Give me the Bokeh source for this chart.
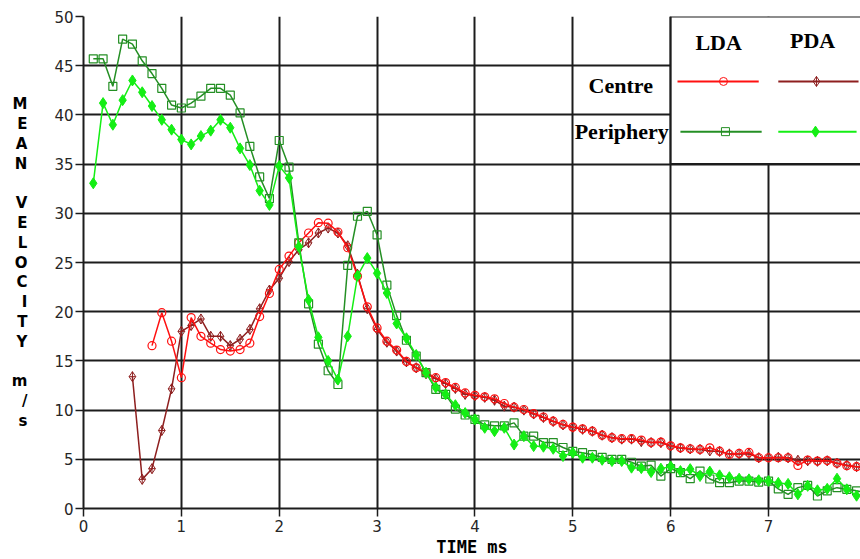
from bokeh.plotting import figure
from bokeh.models import Range1d, FixedTicker
from bokeh.embed import file_html
from bokeh.resources import INLINE
from bokeh.core.properties import value


def times(start, n):
    """Sample times (ms) on the 0.1 ms acquisition grid."""
    return [round(start + 0.1 * i, 1) for i in range(n)]


# Mean velocity (m/s) per 0.1 ms bin
LDA_PERIPHERY = [
    45.7, 45.7, 42.9, 47.7, 47.2, 45.5, 44.2, 42.7, 41.0, 40.7,
    41.2, 41.9, 42.7, 42.7, 42.0, 40.2, 36.8, 33.7, 31.5, 37.4,
    34.7, 27.0, 20.8, 16.7, 14.0, 12.6, 24.7, 29.7, 30.2, 27.8,
    22.7, 19.6, 17.1, 15.5, 13.8, 12.1, 11.6, 10.1, 9.5, 9.05,
    8.5, 8.4, 8.4, 8.7, 7.35, 7.35, 6.7, 6.7, 6.2, 5.8,
    5.67, 5.47, 5.2, 5.0, 5.0, 4.7, 4.3, 4.4, 3.3, 4.05,
    3.65, 3.03, 3.8, 3.0, 2.62, 2.62, 2.79, 2.79, 2.69, 2.79,
    2.0, 1.44, 2.12, 2.35, 1.27, 1.8, 2.12, 1.95, 1.8, 1.6,
]
PDA_PERIPHERY = [
    33.05, 41.2, 39.0, 41.5, 43.5, 42.3, 40.9, 39.5, 38.5, 37.5,
    37.0, 37.85, 38.4, 39.5, 38.7, 36.6, 34.9, 32.3, 30.85, 34.8,
    33.6, 26.6, 21.2, 17.4, 15.0, 13.1, 17.5, 23.65, 25.45, 23.9,
    21.9, 18.8, 17.3, 15.6, 13.8, 12.3, 11.6, 10.5, 9.7, 9.05,
    8.2, 7.86, 8.2, 6.5, 7.35, 6.34, 6.28, 6.07, 5.33, 5.67,
    5.16, 5.16, 4.95, 4.82, 4.82, 4.15, 4.1, 3.7, 4.05, 4.28,
    3.8, 4.0, 3.3, 3.75, 3.37, 3.18, 3.03, 2.96, 2.87, 2.79,
    2.6, 2.5, 1.44, 2.3, 1.85, 2.0, 3.03, 1.95, 1.3, 1.3,
]
LDA_CENTRE = [
    16.55, 19.9, 17.0, 13.3, 19.4, 17.5, 16.8, 16.15, 16.0, 16.15,
    16.8, 19.5, 21.85, 24.3, 25.65, 27.0, 28.0, 29.05, 29.0, 28.1,
    26.5, 23.6, 20.5, 18.35, 17.0, 16.1, 14.95, 14.3, 13.8, 13.3,
    12.8, 12.3, 11.75, 11.5, 11.35, 11.15, 10.67, 10.3, 10.06, 9.65,
    9.3, 8.87, 8.54, 8.27, 8.1, 7.86, 7.45, 7.2, 7.1, 7.1,
    6.95, 6.7, 6.75, 6.37, 6.17, 6.07, 6.0, 6.17, 5.83, 5.5,
    5.6, 5.7, 5.16, 5.16, 5.16, 5.16, 4.38, 4.92, 4.82, 4.87,
    4.6, 4.35, 4.25, 4.2,
]
PDA_CENTRE = [
    13.4, 2.96, 4.05, 7.93, 12.16, 18.0, 18.6, 19.26, 17.5, 17.5,
    16.55, 17.2, 18.2, 20.3, 22.2, 23.4, 25.1, 26.3, 27.0, 28.0,
    28.5, 28.0, 26.7, 23.8, 20.3, 18.2, 16.9, 16.0, 14.9, 14.3,
    13.7, 13.2, 12.7, 12.2, 11.6, 11.45, 11.3, 11.0, 10.4, 10.3,
    10.0, 9.6, 9.25, 8.85, 8.5, 8.25, 8.05, 7.85, 7.45, 7.2,
    7.05, 7.05, 6.8, 6.7, 6.7, 6.35, 6.15, 6.05, 6.0, 5.85,
    5.8, 5.55, 5.55, 5.55, 5.16, 5.16, 5.2, 5.16, 4.9, 4.85,
    4.8, 4.85, 4.6, 4.4, 4.25, 4.15,
]

T_LDA_PERIPHERY = times(0.1, len(LDA_PERIPHERY))
T_PDA_PERIPHERY = times(0.1, len(PDA_PERIPHERY))
T_LDA_CENTRE = times(0.7, len(LDA_CENTRE))
T_PDA_CENTRE = times(0.5, len(PDA_CENTRE))

X_TICKS = [0, 1, 2, 3, 4, 5, 6, 7, 8]
Y_TICKS = [0, 5, 10, 15, 20, 25, 30, 35, 40, 45, 50]
X_TITLE = "TIME ms"
Y_TITLE = "MEAN VELOCITY m/s"

RED = "#ff1010"
DARK_RED = "#8e1f1f"
DARK_GREEN = "#248f24"
LIME = "#14ee14"
GRID = "#1c1c1c"

p = figure(
    width=860, height=559,
    output_backend="svg", toolbar_location=None,
    x_range=Range1d(0, 7.94), y_range=Range1d(0, 50),
    min_border_left=83, min_border_right=0,
    min_border_top=16, min_border_bottom=50,
)
p.outline_line_color = None
p.background_fill_color = "white"
p.border_fill_color = "white"

p.xaxis.ticker = FixedTicker(ticks=X_TICKS)
p.yaxis.ticker = FixedTicker(ticks=Y_TICKS)
for ax in (p.xaxis[0], p.yaxis[0]):
    ax.axis_line_color = GRID
    ax.axis_line_width = 2
    ax.major_tick_line_color = GRID
    ax.major_tick_line_width = 1.5
    ax.major_tick_out = 8
    ax.major_tick_in = 0
    ax.minor_tick_line_color = None
    ax.major_label_text_font = "DejaVu Sans"
    ax.major_label_text_font_size = "15px"
    ax.major_label_text_color = "#262626"
p.yaxis.major_label_standoff = 2
p.xaxis.major_label_standoff = 3

# Axis titles: the vertical one is stacked letter by letter
p.xaxis.axis_label = X_TITLE
p.xaxis.axis_label_text_font = "DejaVu Sans Mono"
p.xaxis.axis_label_text_font_style = "bold"
p.xaxis.axis_label_text_font_size = "17px"
p.xaxis.axis_label_text_color = "black"
p.xaxis.axis_label_standoff = 2

p.yaxis.axis_label = "\n".join(Y_TITLE)
p.yaxis.axis_label_orientation = "horizontal"
p.yaxis.axis_label_text_font = "DejaVu Sans"
p.yaxis.axis_label_text_font_style = "bold"
p.yaxis.axis_label_text_font_size = "15px"
p.yaxis.axis_label_text_line_height = 1.1
p.yaxis.axis_label_text_align = "center"
p.yaxis.axis_label_text_color = "black"
p.yaxis.axis_label_standoff = 24

for g in (p.xgrid[0], p.ygrid[0]):
    g.grid_line_color = GRID
    g.grid_line_width = 2

# Velocity traces
p.line(T_PDA_CENTRE, PDA_CENTRE, line_color=DARK_RED, line_width=1.5)
p.scatter(T_PDA_CENTRE, PDA_CENTRE, marker="diamond_cross", size=10,
          line_color=DARK_RED, fill_color=None, line_width=1)

p.line(T_LDA_CENTRE, LDA_CENTRE, line_color=RED, line_width=1.5)
p.scatter(T_LDA_CENTRE, LDA_CENTRE, marker="circle", size=8,
          line_color=RED, fill_color=None, line_width=1.2)

p.line(T_LDA_PERIPHERY, LDA_PERIPHERY, line_color=DARK_GREEN, line_width=1.5)
p.scatter(T_LDA_PERIPHERY, LDA_PERIPHERY, marker="square", size=8,
          line_color=DARK_GREEN, fill_color=None, line_width=1.2)

p.line(T_PDA_PERIPHERY, PDA_PERIPHERY, line_color=LIME, line_width=1.5)
p.scatter(T_PDA_PERIPHERY, PDA_PERIPHERY, marker="diamond", size=11,
          line_color=LIME, fill_color=LIME)

# Key table: row headings sit in the grid cell left of it, samples in a white panel
p.quad(left=6, right=8.3, bottom=35, top=50, fill_color="white",
       line_color=GRID, line_width=2)

serif = dict(text_font=value("Liberation Serif"), text_font_style="bold",
             text_font_size="22px", text_align="center", text_baseline="middle",
             text_color="black")
p.text(x=[6.49, 7.45], y=[47.4, 47.6], text=["LDA", "PDA"], **serif)
p.text(x=[5.49, 5.5], y=[43.0, 38.3], text=["Centre", "Periphery"], **serif)

key_rows = [
    (6.07, 6.90, 6.54, 43.4, RED, "circle", None, 8),
    (7.10, 7.92, 7.49, 43.4, DARK_RED, "diamond_cross", None, 10),
    (6.10, 6.93, 6.56, 38.3, DARK_GREEN, "square", None, 8),
    (7.10, 7.90, 7.48, 38.3, LIME, "diamond", LIME, 11),
]
for x0, x1, xm, yk, col, mk, fill, sz in key_rows:
    p.line([x0, x1], [yk, yk], line_color=col, line_width=2)
    p.scatter([xm], [yk], marker=mk, size=sz, line_color=col, fill_color=fill)

open("out.html", "w").write(file_html(p, INLINE))
